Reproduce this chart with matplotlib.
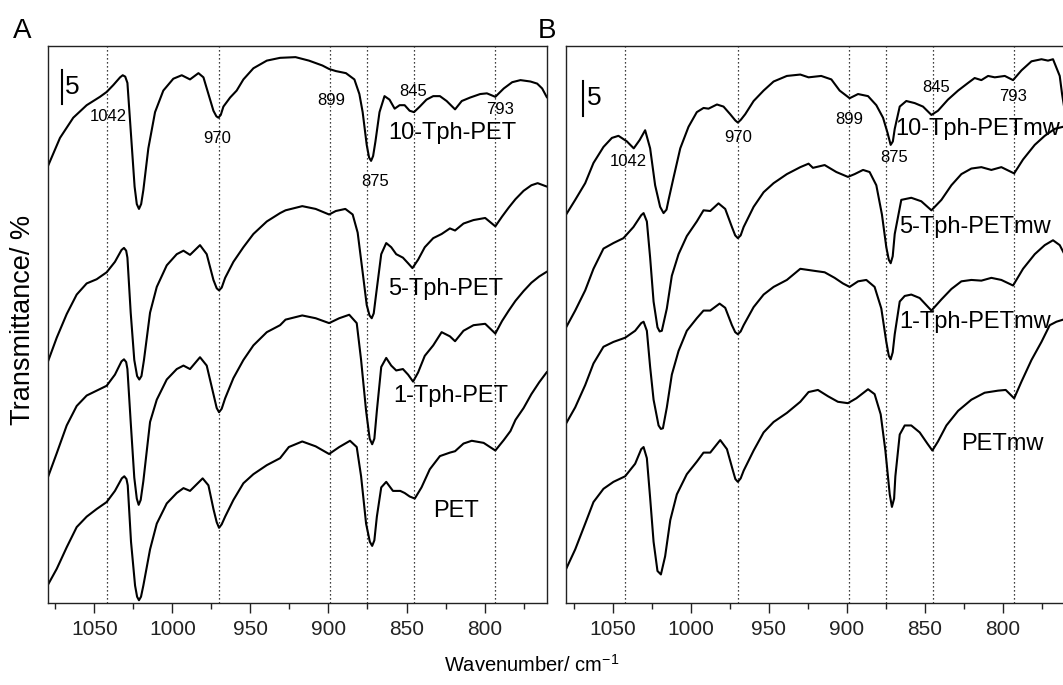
import matplotlib
matplotlib.use("Agg")
from matplotlib import pyplot as plt
from matplotlib.ticker import MultipleLocator, NullLocator

plt.rcParams['font.family'] = ['Liberation Sans', 'DejaVu Sans']
plt.rcParams['mathtext.default'] = 'regular'

# ---- panel A spectra (wavenumber / cm-1, offset transmittance) ----
wn_a10 = [1080, 1072, 1063.5, 1054.9, 1046.4, 1042.1, 1037.8, 1033.5, 1031.8, 1030.2, 1028.8, 1026.7, 1024.2,
          1022.8, 1021.4, 1020.0, 1018.6, 1015.4, 1011.1, 1005.8, 999.4, 994.0, 988.7, 983.3, 980.1, 976.9,
          973.7, 971.8, 970.5, 969.0, 967.3, 963.0, 958.8, 954.5, 948.1, 939.5, 931.0, 921.1, 912.5, 903.9,
          899.6, 895.3, 888.8, 883.4, 880.2, 878.1, 875.5, 874.0, 872.7, 871.4, 869.9, 867.3, 864.1, 860.9,
          857.6, 854.4, 851.2, 848.0, 845.2, 841.5, 837.2, 832.9, 828.6, 824.3, 818.9, 814.6, 809.2, 802.8,
          798.5, 793.1, 787.7, 782.3, 777.0, 770.6, 766.3, 763.1, 760]
t_a10 = [62.6, 66.8, 69.7, 71.5, 72.7, 73.4, 74.4, 75.5, 75.8, 75.6, 74.7, 67.9, 59.8,
         57.3, 56.6, 57.3, 59.3, 65.3, 70.5, 73.6, 75.3, 75.8, 75.2, 76.1, 75.5, 73.1,
         70.7, 69.9, 69.7, 70.1, 71.3, 72.6, 73.6, 75.2, 76.8, 77.9, 78.3, 78.4, 77.9, 77.2,
         76.7, 76.4, 76.1, 75.2, 73.1, 70.5, 65.8, 64.0, 63.5, 64.2, 66.3, 70.5, 72.8, 72.3,
         71.0, 71.5, 71.5, 70.7, 70.5, 71.3, 72.3, 72.8, 72.8, 72.1, 70.9, 72.1, 72.6, 73.1,
         73.2, 72.7, 73.9, 74.8, 75.1, 74.9, 74.6, 73.9, 72.6]

wn_a5 = [1080, 1074.1, 1067.7, 1061.3, 1054.9, 1048.5, 1042.1, 1036.8, 1032.6, 1031.0, 1029.6, 1028.8, 1026.7,
         1024.4, 1022.6, 1021.2, 1019.8, 1018.2, 1014.3, 1010.0, 1003.6, 997.2, 992.9, 988.7, 982.3, 978.0,
         973.7, 971.6, 970.1, 968.4, 966.2, 960.9, 954.5, 948.1, 939.5, 931.0, 927.5, 916.8, 908.2, 899.6,
         895.3, 889.2, 884.5, 881.3, 878.1, 875.5, 873.7, 872.3, 871.0, 869.5, 866.2, 863.0, 859.8, 856.6,
         852.3, 849.0, 846.2, 842.6, 838.3, 832.9, 827.5, 822.2, 818.9, 813.5, 807.1, 799.6, 793.1, 788.8,
         784.5, 780.2, 775, 770, 766, 760]
t_a5 = [34.5, 38.1, 41.5, 44.3, 45.9, 46.5, 47.5, 49.0, 50.7, 51.0, 50.6, 49.6, 41.7,
        34.9, 32.6, 32.1, 32.6, 34.9, 41.7, 45.4, 48.5, 50.1, 50.6, 50.0, 51.4, 50.1,
        46.4, 45.2, 44.9, 45.3, 46.7, 49.0, 51.1, 53.0, 54.8, 56.0, 56.4, 57.0, 56.6, 55.8,
        56.3, 56.6, 55.8, 53.2, 47.5, 42.8, 41.3, 40.9, 41.6, 44.3, 50.1, 51.7, 51.1, 50.1,
        49.6, 48.8, 48.1, 49.3, 51.1, 52.4, 53.0, 53.8, 53.5, 54.5, 55.0, 55.3, 54.1, 55.5,
        56.8, 58.0, 59.2, 60.0, 60.3, 59.8]

wn_a1 = [1080, 1074.1, 1067.7, 1061.3, 1054.9, 1048.5, 1042.1, 1036.8, 1032.6, 1031.0, 1029.6, 1028.8, 1026.7,
         1024.4, 1022.8, 1021.6, 1020.3, 1018.6, 1014.3, 1010.0, 1003.6, 997.2, 992.9, 988.7, 982.3, 978.0,
         973.7, 971.6, 970.1, 968.4, 966.2, 960.9, 954.5, 948.1, 939.5, 931.0, 927.5, 916.8, 908.2, 899.6,
         893.1, 886.7, 881.9, 879.1, 875.9, 873.6, 872.0, 870.6, 869.0, 866.2, 863.0, 859.8, 856.6, 852.3,
         849.0, 845.8, 842.6, 838.3, 832.9, 827.5, 822.2, 818.9, 813.5, 807.1, 799.6, 793.1, 788.8, 784.5,
         780.2, 775, 770, 765, 760]
t_a1 = [17.9, 21.5, 25.5, 28.3, 29.8, 30.5, 31.2, 32.8, 34.7, 35.0, 34.6, 33.6, 26.0,
        18.0, 15.0, 14.1, 14.8, 17.5, 26.0, 29.2, 32.1, 33.6, 34.1, 33.6, 35.3, 34.1,
        30.0, 28.0, 27.4, 27.9, 29.4, 32.3, 34.9, 37.0, 38.9, 39.9, 40.7, 41.3, 40.9, 40.2,
        40.9, 41.4, 40.2, 34.9, 27.6, 23.6, 22.8, 23.6, 27.6, 33.9, 35.2, 34.1, 33.4, 33.6,
        32.8, 31.8, 33.1, 35.5, 37.0, 38.9, 38.3, 37.6, 39.1, 39.9, 40.1, 38.7, 40.5, 42.0,
        43.4, 44.8, 46.0, 46.9, 47.6]

wn_a0 = [1080, 1074.1, 1067.7, 1061.3, 1054.9, 1048.5, 1042.1, 1036.8, 1032.4, 1030.8, 1029.4, 1028.6, 1026.5,
         1023.9, 1022.6, 1021.4, 1020.1, 1018.6, 1014.3, 1010.0, 1003.6, 997.2, 992.9, 988.7, 980.6, 976.9,
         973.7, 971.6, 970.1, 968.4, 966.2, 960.9, 954.5, 948.1, 939.5, 931.0, 925.4, 916.8, 908.2, 899.6,
         893.1, 886.2, 881.9, 879.1, 875.9, 873.5, 872.0, 870.6, 869.0, 866.2, 863.0, 858.7, 854.0, 851.2,
         848.0, 844.7, 840.4, 835.1, 828.6, 822.2, 818.9, 813.5, 808.2, 800.6, 793.1, 787.7, 783.4, 780.2,
         775, 770, 765, 760]
t_a0 = [2.5, 4.9, 8.0, 10.9, 12.4, 13.5, 14.5, 16.1, 17.9, 18.2, 17.8, 16.9, 8.8,
        2.5, 0.9, 0.4, 0.9, 2.5, 7.7, 11.4, 14.3, 15.8, 16.5, 16.1, 17.9, 16.9,
        13.5, 11.6, 10.8, 11.3, 12.4, 14.8, 17.2, 18.5, 19.8, 20.8, 22.4, 23.2, 22.5, 21.4,
        22.4, 23.3, 22.4, 18.2, 11.4, 8.8, 8.2, 9.0, 12.4, 16.6, 17.4, 16.1, 16.1, 15.8,
        15.3, 15.0, 16.6, 19.2, 21.1, 21.6, 21.8, 22.9, 23.3, 23.0, 21.9, 23.4, 24.7, 26.3,
        28.0, 30.0, 31.7, 33.2]

# ---- panel B spectra ----
wn_b10 = [1079.9, 1074.1, 1067.7, 1062.4, 1056.0, 1050.6, 1046.4, 1041.0, 1036.6, 1032.8, 1029.3, 1026.1, 1022.9,
          1019.7, 1017.5, 1015.6, 1014.3, 1011.1, 1006.8, 1001.5, 996.2, 991.9, 988.7, 983.3, 979.1, 974.8,
          971.5, 969.9, 968.0, 965.2, 959.8, 953.4, 947.0, 938.5, 929.9, 924.6, 916.5, 910.0, 904.7, 898.3,
          892.9, 886.5, 881.2, 876.9, 874.1, 872.0, 870.6, 869.4, 866.2, 862.0, 856.6, 851.3, 845.9, 841.7,
          835.3, 828.8, 822.4, 818.2, 813.9, 809.6, 805.3, 798.9, 793.6, 788.2, 781.8, 775.4, 771.2, 768.0,
          763.7, 762.2, 760]
t_b10 = [55.8, 57.9, 60.3, 63.2, 65.5, 66.8, 67.1, 66.3, 65.3, 66.5, 67.9, 65.3, 60.0,
         56.9, 56.0, 56.5, 57.9, 61.1, 65.3, 68.4, 70.5, 71.1, 71.0, 71.6, 71.3, 70.2,
         69.3, 69.0, 69.4, 70.2, 72.1, 73.6, 74.9, 75.7, 75.9, 75.5, 75.7, 75.2, 73.6, 72.5,
         73.1, 72.8, 71.5, 69.7, 67.6, 65.8, 66.3, 68.1, 71.3, 72.1, 71.8, 71.3, 70.1, 70.7,
         72.3, 73.6, 74.7, 75.4, 75.1, 75.7, 75.5, 75.7, 75.1, 76.5, 77.8, 78.1, 77.9, 78.1,
         75.7, 73.1, 70.0]

wn_b5 = [1079.9, 1074.1, 1067.7, 1062.4, 1056.0, 1049.6, 1043.2, 1036.8, 1031.8, 1030.3, 1028.2, 1026.1, 1023.9,
         1021.4, 1020.0, 1018.6, 1015.4, 1012.2, 1007.9, 1002.6, 996.2, 991.9, 987.6, 982.3, 978.0, 973.7,
         971.6, 969.9, 968.1, 966.2, 959.8, 953.4, 947.0, 938.5, 929.9, 924.6, 921.8, 914.3, 906.8, 899.4,
         895.1, 889.7, 885.5, 881.2, 877.6, 874.8, 873.2, 872.0, 870.7, 869.4, 865.2, 858.8, 852.4, 845.9,
         839.5, 833.1, 826.7, 820.3, 813.9, 807.5, 801.1, 792.9, 787.2, 779.7, 773.3, 766.9, 761.5, 760]
t_b5 = [39.6, 42.0, 44.9, 48.0, 50.9, 51.7, 52.4, 54.0, 55.7, 56.0, 54.8, 49.6, 43.3,
        39.6, 39.0, 39.1, 42.3, 47.0, 50.1, 52.7, 54.8, 56.4, 56.3, 57.4, 56.6, 54.0,
        52.8, 52.4, 52.8, 54.0, 56.9, 59.0, 60.3, 61.6, 62.6, 63.1, 62.5, 62.9, 61.9, 61.2,
        61.6, 62.2, 61.9, 60.0, 55.8, 51.1, 49.3, 48.8, 49.8, 53.0, 57.9, 58.2, 57.7, 56.4,
        57.9, 60.0, 61.6, 62.4, 62.6, 62.2, 62.6, 61.7, 63.7, 65.8, 67.1, 68.1, 68.4, 68.3]

wn_b1 = [1079.9, 1074.1, 1067.7, 1062.4, 1056.0, 1049.6, 1042.1, 1035.7, 1031.8, 1030.3, 1028.2, 1026.1, 1023.9,
         1020.7, 1019.2, 1017.9, 1015.4, 1012.2, 1007.9, 1002.6, 996.2, 991.9, 987.6, 981.6, 978.0, 973.7,
         971.6, 969.9, 968.1, 966.2, 959.8, 953.4, 947.0, 938.5, 929.9, 920.7, 914.3, 907.9, 902.6, 898.3,
         892.9, 887.6, 882.3, 878.0, 874.8, 873.2, 872.0, 870.7, 869.4, 866.2, 863.0, 858.8, 853.4, 845.9,
         839.5, 833.1, 826.7, 820.3, 813.9, 807.5, 801.1, 793.6, 787.2, 779.7, 773.3, 768.0, 763.7, 760]
t_b1 = [25.8, 28.1, 31.3, 34.4, 36.8, 37.5, 38.1, 39.1, 40.2, 40.4, 39.1, 33.9, 29.2,
        25.5, 25.0, 25.1, 28.1, 32.8, 36.2, 39.1, 40.9, 42.0, 42.0, 43.0, 42.4, 39.9,
        38.9, 38.6, 39.0, 39.9, 42.5, 44.3, 45.4, 46.4, 48.0, 47.7, 47.5, 46.7, 45.9, 45.4,
        46.2, 46.4, 45.4, 42.3, 37.5, 35.5, 35.0, 36.0, 38.6, 43.3, 44.1, 44.3, 43.8, 42.0,
        43.6, 45.1, 46.2, 46.4, 46.3, 46.7, 46.4, 45.6, 48.0, 50.1, 51.4, 52.1, 51.4, 49.8]

wn_b0 = [1079.9, 1074.1, 1067.7, 1062.4, 1056.0, 1049.6, 1042.1, 1035.7, 1031.8, 1030.3, 1028.2, 1026.1, 1023.9,
         1021.4, 1019.2, 1016.5, 1013.2, 1009.0, 1002.6, 996.2, 991.9, 987.6, 981.2, 976.9, 973.3, 971.5,
         969.9, 968.1, 966.2, 959.8, 953.4, 947.0, 938.5, 929.9, 924.6, 918.6, 912.2, 905.8, 899.4, 894.0,
         886.5, 882.3, 878.4, 875.4, 872.6, 871.2, 869.8, 869.0, 866.2, 863.0, 858.8, 853.4, 848.5, 845.3,
         841.7, 836.3, 828.8, 820.3, 811.8, 803.2, 798.3, 792.9, 788.2, 781.8, 775.4, 770.1, 765.8, 761.5, 760]
t_b0 = [4.9, 7.7, 11.4, 14.5, 16.4, 17.4, 18.2, 20.0, 22.1, 22.4, 20.8, 15.1, 8.8,
        4.6, 4.1, 6.7, 11.9, 15.6, 18.5, 20.3, 21.6, 21.6, 23.4, 22.1, 19.2, 17.8,
        17.4, 17.9, 19.0, 21.9, 24.5, 26.0, 27.3, 28.9, 30.3, 30.6, 29.7, 28.9, 28.7, 29.4,
        30.7, 30.0, 27.1, 21.9, 15.6, 13.8, 15.0, 18.2, 24.2, 25.5, 25.5, 24.5, 22.9, 21.9,
        23.2, 25.5, 27.6, 29.2, 30.2, 30.5, 30.6, 29.4, 31.8, 34.9, 37.5, 39.9, 40.4, 40.7, 40.8]

band_pos = [1042, 970, 899, 875, 845, 793]
band_txt = ["1042", "970", "899", "875", "845", "793"]

# label positions (wavenumber, transmittance) for the band numbers
band_xy_a = [(1041, 69.9), (971.5, 66.7), (898.5, 72.2), (870, 60.6), (845.8, 73.4), (790, 70.9)]
band_xy_b = [(1040, 63.4), (969.4, 66.9), (898.3, 69.5), (869.9, 64.0), (842.7, 74.0), (793.6, 72.8)]

names_a = ["10-Tph-PET", "5-Tph-PET", "1-Tph-PET", "PET"]
name_xy_a = [(861.5, 67.5), (862, 45.1), (858.3, 29.8), (833, 13.2)]
names_b = ["10-Tph-PETmw", "5-Tph-PETmw", "1-Tph-PETmw", "PETmw"]
name_xy_b = [(869, 68.1), (866.5, 54.0), (866.5, 40.4), (827, 22.9)]

fig = plt.figure(figsize=(10.63, 6.85), dpi=100)
ax_a = fig.add_axes([47.5 / 1063, 82 / 685, 499.5 / 1063, 557 / 685])
ax_b = fig.add_axes([566 / 1063, 82 / 685, 499.5 / 1063, 557 / 685])

spectra_a = [(wn_a10, t_a10), (wn_a5, t_a5), (wn_a1, t_a1), (wn_a0, t_a0)]
spectra_b = [(wn_b10, t_b10), (wn_b5, t_b5), (wn_b1, t_b1), (wn_b0, t_b0)]

for ax, spectra, band_xy, names, name_xy, bar_x, bar_top in [
        (ax_a, spectra_a, band_xy_a, names_a, name_xy_a, 1071, 76.6),
        (ax_b, spectra_b, band_xy_b, names_b, name_xy_b, 1069, 75.0)]:
    for w in band_pos:
        ax.axvline(w, color='k', lw=0.9, ls=(0, (1, 2.2)))
    for wn, t in spectra:
        ax.plot(wn, t, color='k', lw=1.5, solid_joinstyle='round', solid_capstyle='round')
    for txt, (x, y) in zip(band_txt, band_xy):
        ax.text(x, y, txt, fontsize=12, ha='center', va='center')
    for txt, (x, y) in zip(names, name_xy):
        ax.text(x, y, txt, fontsize=17, ha='left', va='center')
    # 5 % scale bar
    ax.plot([bar_x, bar_x], [bar_top - 5, bar_top], color='k', lw=1.5)
    ax.text(bar_x - 2.5, bar_top - 2.5, "5", fontsize=19, ha='left', va='center')

    ax.set_xlim(1080, 760)
    ax.set_ylim(0, 80)
    ax.xaxis.set_major_locator(MultipleLocator(50))
    ax.xaxis.set_minor_locator(MultipleLocator(25))
    ax.yaxis.set_major_locator(NullLocator())
    ax.tick_params(axis='x', which='major', direction='out', length=7, width=1, labelsize=15, pad=5, colors='#222')
    ax.tick_params(axis='x', which='minor', direction='out', length=4, width=1, colors='#222')
    for s in ax.spines.values():
        s.set_color('#222')
        s.set_linewidth(1.0)

fig.text(0.012, 0.955, "A", fontsize=20, ha='left', va='center')
fig.text(0.506, 0.955, "B", fontsize=20, ha='left', va='center')
fig.text(0.0214, 0.533, "Transmittance/ %", fontsize=19.5, rotation=90, ha='center', va='center')
fig.text(0.5, 0.03, r"Wavenumber/ cm$^{-1}$", fontsize=14.5, ha='center', va='center')

fig.savefig("out.png", dpi=100)
